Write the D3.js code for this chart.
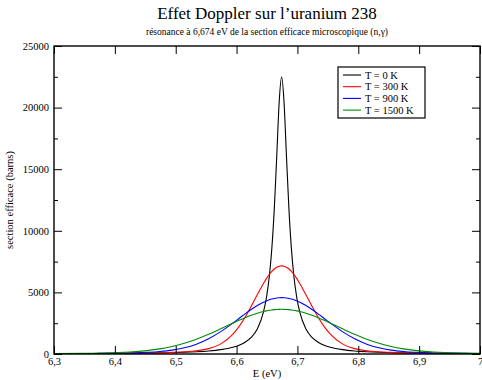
<!DOCTYPE html>
<html><head><meta charset="utf-8">
<script src="https://cdn.jsdelivr.net/npm/d3@7"></script>
<style>
body{margin:0;background:#fff}
svg{display:block}
text{font-family:"Liberation Serif","Times New Roman",Times,serif;fill:#000}
</style>
</head><body>
<svg id="chart" width="482" height="380"></svg>
<script>
// ---- data (E in eV, cross sections in barns) ----
const energy = [6.300,6.348,6.374,6.424,6.474,6.494,6.514,6.534,6.554,6.574,6.594,6.604,6.614,6.624,6.634,6.644,6.649,6.654,6.658,6.662,6.666,6.670,
  6.674,
  6.678,6.682,6.686,6.690,6.694,6.699,6.704,6.714,6.724,6.734,6.744,6.754,6.774,6.794,6.814,6.834,6.854,6.874,6.924,6.974,7.000];
const sigma0K = [26,34,40,57,89,110,139,181,245,352,545,706,950,1344,2031,3374,4558,6393,8612,11799,16036,20440,
  22500,
  20440,16036,11799,8612,6393,4558,3374,2031,1344,950,706,545,352,245,181,139,110,89,57,40,34];
const sigma300K = [26,35,42,62,102,130,178,264,438,823,1616,2226,2985,3865,4804,5709,6115,6470,6709,6901,7044,7128,
  7157,
  7128,7044,6901,6709,6470,6115,5709,4804,3865,2985,2226,1616,823,438,264,178,130,102,62,42,35];
const sigma900K = [29,39,48,83,200,313,502,798,1234,1814,2514,2886,3257,3610,3929,4198,4308,4401,4462,4510,4544,4565,
  4572,
  4565,4544,4510,4462,4401,4308,4198,3929,3610,3257,2886,2514,1814,1234,798,502,313,200,83,48,39];
const sigma1500K = [32,50,69,158,416,607,867,1197,1596,2044,2509,2734,2946,3140,3307,3444,3500,3546,3576,3599,3616,3626,
  3629,
  3626,3616,3599,3576,3546,3500,3444,3307,3140,2946,2734,2509,2044,1596,1197,867,607,416,158,69,50];
const seriesLabels = ["T = 0 K","T = 300 K","T = 900 K","T = 1500 K"];
const xTickValues = [6.3,6.4,6.5,6.6,6.7,6.8,6.9,7.0];
const yTickValues = [0,5000,10000,15000,20000,25000];
const yMinorTickValues = [2500,7500,12500,17500,22500];
const titleText = "Effet Doppler sur l\u2019uranium 238";
const subtitleText = "résonance à 6,674 eV de la section efficace microscopique (n,\u03b3)";
const xLabelText = "E (eV)";
const yLabelText = "section efficace (barns)";

// ---- drawing ----
const FONT = '"Liberation Serif","Times New Roman",Times,serif';
const svg = d3.select("#chart");
const L = 54, R = 480, T = 46, B = 354;
const x = d3.scaleLinear().domain([6.3, 7.0]).range([L, R]);
const y = d3.scaleLinear().domain([0, 25000]).range([B, T]);
const colors = ["#000000", "#ff0000", "#0000ff", "#008b00"];
const series = [sigma0K, sigma300K, sigma900K, sigma1500K];

const locale = d3.formatLocale({decimal: ",", thousands: "", grouping: [3], currency: ["", ""]});
const fx = locale.format(".1~f");
const fy = d3.format("d");

svg.append("defs").append("clipPath").attr("id", "clip")
  .append("rect").attr("x", L).attr("y", T).attr("width", R - L).attr("height", B - T);

// curves
const line = d3.line().x((d, i) => x(energy[i])).y(d => y(d)).curve(d3.curveMonotoneX);
const g = svg.append("g").attr("clip-path", "url(#clip)");
series.forEach((s, k) => {
  g.append("path").datum(s).attr("d", line)
    .attr("fill", "none").attr("stroke", colors[k]).attr("stroke-width", 1.1);
});

// axes
function styleAxis(sel) {
  sel.attr("font-family", FONT).attr("font-size", 10.5);
  sel.select(".domain").remove();
  sel.selectAll(".tick line").attr("stroke", "#000").attr("stroke-width", 1);
  sel.selectAll(".tick text").attr("font-family", FONT).style("font-family", FONT)
    .style("font-size", "10.5px").attr("fill", "#000");
}
const xb = svg.append("g").attr("transform", `translate(0,${B})`)
  .call(d3.axisBottom(x).tickValues(xTickValues).tickFormat(fx).tickSizeInner(-8).tickSizeOuter(0).tickPadding(4));
styleAxis(xb);
const xt = svg.append("g").attr("transform", `translate(0,${T})`)
  .call(d3.axisTop(x).tickValues(xTickValues).tickFormat("").tickSizeInner(-8).tickSizeOuter(0));
styleAxis(xt);
const yl = svg.append("g").attr("transform", `translate(${L},0)`)
  .call(d3.axisLeft(y).tickValues(yTickValues).tickFormat(fy).tickSizeInner(-8).tickSizeOuter(0).tickPadding(5));
styleAxis(yl);
const ylm = svg.append("g").attr("transform", `translate(${L},0)`)
  .call(d3.axisLeft(y).tickValues(yMinorTickValues).tickFormat("").tickSizeInner(-4).tickSizeOuter(0));
styleAxis(ylm);
const yr = svg.append("g").attr("transform", `translate(${R},0)`)
  .call(d3.axisRight(y).tickValues(yTickValues).tickFormat("").tickSizeInner(-8).tickSizeOuter(0));
styleAxis(yr);
const yrm = svg.append("g").attr("transform", `translate(${R},0)`)
  .call(d3.axisRight(y).tickValues(yMinorTickValues).tickFormat("").tickSizeInner(-4).tickSizeOuter(0));
styleAxis(yrm);

// frame
svg.append("rect").attr("x", L).attr("y", T).attr("width", R - L).attr("height", B - T)
  .attr("fill", "none").attr("stroke", "#000").attr("stroke-width", 1.4);

// titles
svg.append("text").attr("x", (L + R) / 2).attr("y", 19).attr("text-anchor", "middle")
  .style("font-size", "17px").text(titleText);
svg.append("text").attr("x", (L + R) / 2).attr("y", 35).attr("text-anchor", "middle")
  .style("font-size", "9.5px").text(subtitleText);
svg.append("text").attr("x", (L + R) / 2).attr("y", 377).attr("text-anchor", "middle")
  .style("font-size", "10.5px").text(xLabelText);
svg.append("text").attr("transform", `translate(13,${(T + B) / 2}) rotate(-90)`).attr("text-anchor", "middle")
  .style("font-size", "10.5px").text(yLabelText);

// legend
const lg = svg.append("g");
lg.append("rect").attr("x", 338).attr("y", 67).attr("width", 87).attr("height", 51)
  .attr("fill", "#fff").attr("stroke", "#000").attr("stroke-width", 1.2);
seriesLabels.forEach((lab, k) => {
  const yy = 75 + k * 11.7;
  lg.append("line").attr("x1", 343).attr("x2", 361).attr("y1", yy).attr("y2", yy)
    .attr("stroke", colors[k]).attr("stroke-width", 1.1);
  lg.append("text").attr("x", 365).attr("y", yy).attr("dy", "0.35em")
    .style("font-size", "10.5px").text(lab);
});
</script>
</body></html>
